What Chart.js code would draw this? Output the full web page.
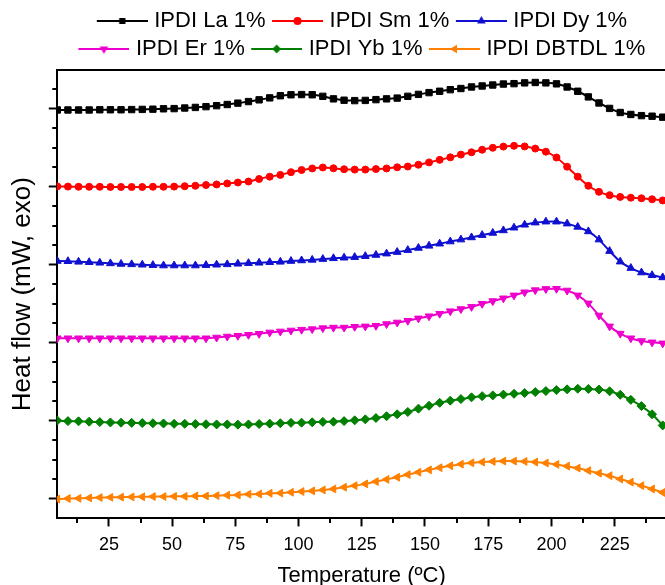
<!DOCTYPE html>
<html>
<head>
<meta charset="utf-8">
<script src="https://cdn.jsdelivr.net/npm/chart.js@4/dist/chart.umd.min.js"></script>
<style>
  html, body { margin: 0; padding: 0; background: #fff; overflow: hidden; }
  #wrap { width: 672px; height: 585px; }
</style>
</head>
<body>
<div id="wrap"><canvas id="dsc"></canvas></div>
<script>
// temperature (°C) at each marker
const temps = [4.6, 8.8, 13.0, 17.2, 21.4, 25.6, 29.8, 34.0, 38.2, 42.4, 46.6, 50.8, 55.0, 59.2, 63.4, 67.6, 71.8, 76.0, 80.2, 84.4,
  88.6, 92.8, 97.0, 101.2, 105.4, 109.6, 113.8, 118.0, 122.2, 126.4, 130.6, 134.8, 139.0, 143.2, 147.4, 151.6, 155.8, 160.0, 164.2, 168.4,
  172.6, 176.8, 181.0, 185.2, 189.4, 193.6, 197.8, 202.0, 206.2, 210.4, 214.6, 218.8, 223.0, 227.2, 231.4, 235.6, 239.8, 244.0];

// heat flow, curves offset (mW, exo up)
const la = [20.95, 20.95, 20.95, 20.95, 20.96, 20.96, 20.96, 20.97, 20.98, 20.99, 21.01, 21.02, 21.05, 21.08, 21.12, 21.17, 21.23, 21.30, 21.38, 21.47,
  21.57, 21.68, 21.73, 21.74, 21.73, 21.65, 21.52, 21.45, 21.43, 21.44, 21.48, 21.52, 21.56, 21.65, 21.75, 21.84, 21.91, 21.99, 22.05, 22.13,
  22.18, 22.23, 22.28, 22.30, 22.34, 22.36, 22.34, 22.29, 22.13, 21.91, 21.62, 21.31, 21.03, 20.82, 20.72, 20.66, 20.63, 20.58];
const sm = [17.03, 17.02, 17.01, 17.01, 17.01, 17.00, 17.00, 17.00, 17.00, 17.01, 17.01, 17.02, 17.04, 17.06, 17.10, 17.13, 17.18, 17.23, 17.28, 17.41,
  17.53, 17.62, 17.76, 17.87, 17.95, 18.00, 17.96, 17.91, 17.89, 17.89, 17.92, 17.95, 18.01, 18.05, 18.14, 18.26, 18.39, 18.52, 18.66, 18.78,
  18.91, 19.01, 19.07, 19.11, 19.08, 18.97, 18.81, 18.51, 18.04, 17.53, 17.06, 16.75, 16.58, 16.49, 16.45, 16.42, 16.37, 16.31];
const dy = [13.20, 13.19, 13.16, 13.14, 13.11, 13.08, 13.05, 13.03, 13.01, 12.99, 12.97, 12.97, 12.97, 12.97, 12.99, 13.01, 13.03, 13.06, 13.09, 13.11,
  13.14, 13.16, 13.20, 13.23, 13.26, 13.30, 13.34, 13.37, 13.40, 13.45, 13.51, 13.58, 13.66, 13.76, 13.87, 13.98, 14.09, 14.20, 14.30, 14.41,
  14.53, 14.64, 14.77, 14.91, 15.06, 15.17, 15.22, 15.22, 15.12, 14.95, 14.72, 14.30, 13.71, 13.17, 12.84, 12.61, 12.47, 12.36];
const er = [9.24, 9.24, 9.24, 9.24, 9.24, 9.24, 9.24, 9.24, 9.24, 9.24, 9.24, 9.24, 9.24, 9.24, 9.24, 9.28, 9.33, 9.37, 9.42, 9.47,
  9.54, 9.59, 9.64, 9.68, 9.71, 9.76, 9.79, 9.79, 9.83, 9.85, 9.88, 9.97, 10.05, 10.14, 10.26, 10.37, 10.50, 10.63, 10.74, 10.85,
  11.01, 11.15, 11.29, 11.44, 11.60, 11.71, 11.77, 11.78, 11.69, 11.44, 11.03, 10.41, 9.85, 9.48, 9.24, 9.10, 9.03, 8.98];
const yb = [5.02, 4.99, 4.98, 4.96, 4.94, 4.92, 4.91, 4.90, 4.89, 4.88, 4.87, 4.85, 4.85, 4.84, 4.83, 4.82, 4.82, 4.81, 4.82, 4.84,
  4.86, 4.88, 4.90, 4.91, 4.93, 4.95, 4.96, 4.99, 5.03, 5.08, 5.15, 5.24, 5.34, 5.46, 5.63, 5.78, 5.93, 6.04, 6.12, 6.21,
  6.27, 6.31, 6.35, 6.39, 6.43, 6.48, 6.53, 6.58, 6.62, 6.65, 6.64, 6.61, 6.52, 6.34, 6.08, 5.76, 5.34, 4.77];
const dbtdl = [0.99, 1.02, 1.03, 1.05, 1.07, 1.08, 1.09, 1.10, 1.11, 1.12, 1.12, 1.13, 1.13, 1.15, 1.15, 1.17, 1.19, 1.20, 1.24, 1.25,
  1.29, 1.30, 1.34, 1.38, 1.41, 1.46, 1.51, 1.60, 1.68, 1.77, 1.89, 2.00, 2.11, 2.25, 2.37, 2.49, 2.60, 2.70, 2.78, 2.85,
  2.89, 2.92, 2.94, 2.94, 2.92, 2.89, 2.84, 2.77, 2.68, 2.58, 2.45, 2.32, 2.19, 2.02, 1.86, 1.68, 1.51, 1.33];

const seriesNames = ['IPDI La 1%', 'IPDI Sm 1%', 'IPDI Dy 1%', 'IPDI Er 1%', 'IPDI Yb 1%', 'IPDI DBTDL 1%'];
const xTicks = [25, 50, 75, 100, 125, 150, 175, 200, 225];
const xMinorTicks = [12.5, 37.5, 62.5, 87.5, 112.5, 137.5, 162.5, 187.5, 212.5, 237.5];
const yTicks = [1, 5, 9, 13, 17, 21];
const yMinorTicks = [2, 3, 4, 6, 7, 8, 10, 11, 12, 14, 15, 16, 18, 19, 20, 22];

const FONT = "'Liberation Sans', Arial, sans-serif";

const styles = [
  { color: '#000000', point: 'rect', rot: 0, r: 4.5 },
  { color: '#ff0000', point: 'circle', rot: 0, r: 3.5 },
  { color: '#1010d0', point: 'triangle', rot: 0, r: 4.5 },
  { color: '#ee00cc', point: 'triangle', rot: 180, r: 4.5 },
  { color: '#007f00', point: 'rectRot', rot: 0, r: 4.5 },
  { color: '#ff8000', point: 'triangle', rot: -90, r: 4.5 }
];
const values = [la, sm, dy, er, yb, dbtdl];

// small line+marker picture for each legend entry
function legendSample(st) {
  const c = document.createElement('canvas');
  c.width = 56; c.height = 12;
  const g = c.getContext('2d');
  g.strokeStyle = st.color; g.fillStyle = st.color; g.lineWidth = 2;
  g.beginPath(); g.moveTo(5, 6); g.lineTo(56, 6); g.stroke();
  if (Chart.helpers && Chart.helpers.drawPoint) {
    Chart.helpers.drawPoint(g, { pointStyle: st.point, radius: 3, rotation: st.rot, borderWidth: 1 }, 30.5, 6);
  } else {
    g.fillRect(28, 3.5, 5, 5);
  }
  return c;
}

const minorTicks = {
  id: 'minorTicks',
  afterDraw(chart) {
    const { ctx, scales: { x, y } } = chart;
    ctx.save();
    ctx.strokeStyle = '#000';
    ctx.lineWidth = 2;
    ctx.beginPath();
    xMinorTicks.forEach(v => {
      const px = Math.round(x.getPixelForValue(v));
      ctx.moveTo(px, x.top);
      ctx.lineTo(px, x.top + 4.5);
    });
    yMinorTicks.forEach(v => {
      const py = Math.round(y.getPixelForValue(v));
      ctx.moveTo(y.right, py);
      ctx.lineTo(y.right - 4.5, py);
    });
    ctx.stroke();
    ctx.restore();
  }
};

const datasets = values.map((vals, i) => ({
  label: seriesNames[i],
  data: temps.map((t, k) => ({ x: t, y: vals[k] })),
  borderColor: styles[i].color,
  backgroundColor: styles[i].color,
  borderWidth: 2,
  pointStyle: styles[i].point,
  pointRotation: styles[i].rot,
  pointRadius: styles[i].r,
  pointBorderWidth: 1,
  tension: 0.2
}));

new Chart(document.getElementById('dsc'), {
  type: 'line',
  data: { datasets },
  plugins: [minorTicks],
  options: {
    responsive: true,
    maintainAspectRatio: false,
    animation: false,
    layout: { padding: { top: 4, left: 0, right: 0, bottom: -2 } },
    plugins: {
      tooltip: { enabled: false },
      legend: {
        position: 'top',
        fullSize: false,
        labels: {
          usePointStyle: true,
          pointStyleWidth: 47,
          padding: 6,
          color: '#000',
          font: { family: FONT, size: 22 },
          generateLabels(chart) {
            return chart.data.datasets.map((ds, i) => ({
              text: ds.label,
              datasetIndex: i,
              pointStyle: legendSample(styles[i]),
              rotation: 0,
              fontColor: '#000',
              fillStyle: ds.borderColor,
              strokeStyle: ds.borderColor,
              lineWidth: 0,
              hidden: false
            }));
          }
        }
      }
    },
    scales: {
      x: {
        type: 'linear',
        min: 4.4,
        max: 245.5,
        afterBuildTicks(scale) { scale.ticks = xTicks.map(v => ({ value: v })); },
        grid: { drawOnChartArea: false, tickLength: 8, tickWidth: 2, tickColor: '#000' },
        border: { color: '#000', width: 2 },
        ticks: { color: '#000', padding: 8, maxRotation: 0, font: { family: FONT, size: 18 } },
        title: {
          display: true,
          text: 'Temperature (ºC)',
          color: '#000',
          font: { family: FONT, size: 22, lineHeight: 1 },
          padding: { top: 1, bottom: 0 }
        }
      },
      x2: {
        type: 'linear',
        position: 'top',
        min: 4.4,
        max: 245.5,
        grid: { drawOnChartArea: false, drawTicks: false },
        border: { color: '#000', width: 2 },
        ticks: { display: false }
      },
      y: {
        type: 'linear',
        min: 0,
        max: 23,
        afterBuildTicks(scale) { scale.ticks = yTicks.map(v => ({ value: v })); },
        grid: { drawOnChartArea: false, tickLength: 8, tickWidth: 2, tickColor: '#000' },
        border: { color: '#000', width: 2 },
        ticks: { display: false },
        title: {
          display: true,
          text: 'Heat flow (mW, exo)',
          color: '#000',
          font: { family: FONT, size: 26 },
          padding: { top: 7, bottom: 10.6 }
        }
      }
    }
  }
});
</script>
</body>
</html>
